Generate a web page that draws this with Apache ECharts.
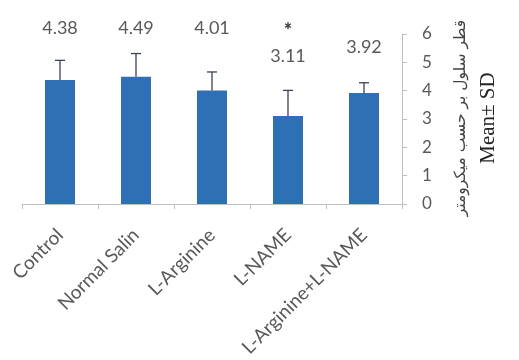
<!DOCTYPE html>
<html>
<head>
<meta charset="utf-8">
<script src="https://cdn.jsdelivr.net/npm/echarts@6/dist/echarts.min.js"></script>
<style>
  html, body { margin: 0; padding: 0; background: #fff; }
  #chart { width: 519px; height: 360px; }
</style>
</head>
<body>
<div id="chart"></div>
<script>
// data
var groups = ['Control', 'Normal Salin', 'L-Arginine', 'L-NAME', 'L-Arginine+L-NAME'];
var means = [4.38, 4.49, 4.01, 3.11, 3.92];
var sds = [0.69, 0.82, 0.65, 0.90, 0.36];
var marks = ['', '', '', '*', ''];
var yTicks = [0, 1, 2, 3, 4, 5, 6];

// where the value labels sit (axis units), as in the original figure
var labelLevel = [6.2, 6.2, 6.2, 5.22, 5.52];
var markLevel = 6.1;

var chart = echarts.init(document.getElementById('chart'));
var font = 'Lato, "Open Sans", sans-serif';

var option = {
	animation: false,
	grid: { left: 22, right: 117, top: 34, bottom: 156 },
	xAxis: {
		type: 'category',
		data: groups,
		axisLine: { lineStyle: { color: '#bfbfbf', width: 1 } },
		axisTick: { show: true, length: 5, lineStyle: { color: '#bfbfbf' } },
		axisLabel: { rotate: 45, color: '#595959', fontSize: 19, fontFamily: font, margin: 28 }
	},
	yAxis: {
		type: 'value',
		position: 'right',
		min: yTicks[0],
		max: yTicks[yTicks.length - 1],
		interval: 1,
		splitLine: { show: false },
		axisLine: { show: true, lineStyle: { color: '#bfbfbf' } },
		axisTick: { show: true, length: 5, lineStyle: { color: '#bfbfbf' } },
		axisLabel: { color: '#595959', fontSize: 17, fontFamily: font, margin: 20 }
	},
	graphic: [
		{
			type: 'text', x: 461, y: 118, rotation: Math.PI / 2,
			style: { text: 'قطر سلول بر حسب میکرومتر', fill: '#444', font: '15.5px "DejaVu Sans", sans-serif', align: 'center', verticalAlign: 'middle' }
		},
		{
			type: 'text', x: 488, y: 118, rotation: Math.PI / 2,
			style: { text: 'Mean± SD', fill: '#222', font: '21px "Liberation Serif", serif', align: 'center', verticalAlign: 'middle' }
		}
	],
	series: [
		{
			type: 'bar',
			data: means,
			barWidth: 30,
			itemStyle: { color: '#2e70b6' }
		},
		{
			type: 'custom',
			z: 3,
			data: means.map(function (m, i) { return [i, m, sds[i]]; }),
			renderItem: function (params, api) {
				var i = api.value(0);
				var m = api.value(1);
				var sd = api.value(2);
				var base = api.coord([i, m]);
				var top = api.coord([i, m + sd]);
				var cap = 5;
				var lineStyle = { stroke: '#3a4352', lineWidth: 1.3 };
				var lp = api.coord([i, labelLevel[i]]);
				var mp = api.coord([i, markLevel]);
				return {
					type: 'group',
					children: [
						{ type: 'line', shape: { x1: base[0], y1: base[1], x2: top[0], y2: top[1] }, style: lineStyle },
						{ type: 'line', shape: { x1: top[0] - cap, y1: top[1], x2: top[0] + cap, y2: top[1] }, style: lineStyle },
						{ type: 'text', x: lp[0], y: lp[1], style: { text: means[i].toFixed(2), fill: '#595959', font: '18px ' + font, align: 'center', verticalAlign: 'middle' } },
						{ type: 'text', x: mp[0], y: mp[1], style: { text: marks[i], fill: '#333', font: 'bold 20px ' + font, align: 'center', verticalAlign: 'middle' } }
					]
				};
			}
		}
	]
};

chart.setOption(option);
</script>
</body>
</html>
